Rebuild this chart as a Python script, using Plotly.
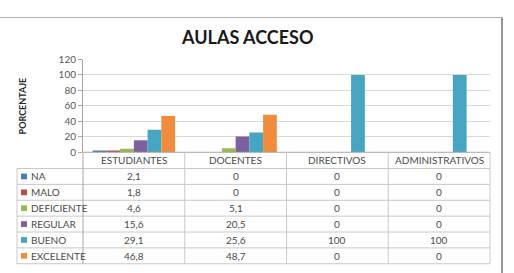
import plotly.graph_objects as go

categories = ["ESTUDIANTES", "DOCENTES", "DIRECTIVOS", "ADMINISTRATIVOS"]
series_names = ["NA", "MALO", "DEFICIENTE", "REGULAR", "BUENO", "EXCELENTE"]
na = [2.1, 0, 0, 0]
malo = [1.8, 0, 0, 0]
deficiente = [4.6, 5.1, 0, 0]
regular = [15.6, 20.5, 0, 0]
bueno = [29.1, 25.6, 100, 100]
excelente = [46.8, 48.7, 0, 0]
y_ticks = [0, 20, 40, 60, 80, 100, 120]
title_text = "AULAS ACCESO"
y_title = "PORCENTAJE"

series_values = [na, malo, deficiente, regular, bueno, excelente]
colors = ["#4a7ebb", "#be4b48", "#98b954", "#7d60a0", "#46a5c0", "#f08c3c"]

W, H = 514, 273
def px(x):
    return x / W
def py(y):
    return 1 - y / H

FONT = "Lato"
fig = go.Figure()
for name, vals, c in zip(series_names, series_values, colors):
    fig.add_trace(go.Bar(x=categories, y=vals, name=name, marker=dict(color=c, line=dict(width=0))))

plot_l, plot_r, plot_t, plot_b = 83, 490, 56, 153
shapes = []
annotations = []

# outer frame
shapes.append(dict(type="rect", xref="paper", yref="paper", x0=px(-3), x1=px(502), y0=py(12), y1=py(290),
                   line=dict(color="#b0b0b0", width=1)))
shapes.append(dict(type="line", xref="paper", yref="paper", x0=px(502), x1=px(502), y0=py(12), y1=py(290),
                   line=dict(color="#808080", width=1.5)))

# table
row_h = 16.6
header_top = plot_b
rows_top = plot_b + 17
line_col = "#c8c8c8"
for i in range(len(series_names) + 1):
    yy = rows_top + i * row_h
    shapes.append(dict(type="line", xref="paper", yref="paper", x0=px(17), x1=px(plot_r), y0=py(yy), y1=py(yy),
                       line=dict(color=line_col, width=1)))
table_bottom = rows_top + len(series_names) * row_h
shapes.append(dict(type="line", xref="paper", yref="paper", x0=px(plot_l), x1=px(plot_r), y0=py(header_top), y1=py(header_top),
                   line=dict(color="#a6a6a6", width=1)))
shapes.append(dict(type="line", xref="paper", yref="paper", x0=px(17), x1=px(17), y0=py(rows_top), y1=py(table_bottom),
                   line=dict(color=line_col, width=1)))
col_w = (plot_r - plot_l) / len(categories)
for j in range(len(categories) + 1):
    xx = plot_l + j * col_w
    shapes.append(dict(type="line", xref="paper", yref="paper", x0=px(xx), x1=px(xx), y0=py(header_top), y1=py(table_bottom),
                       line=dict(color=line_col if j > 0 else "#a6a6a6", width=1)))

txt_col = "#4a4a4a"
for c in categories:
    annotations.append(dict(x=c, xref="x", y=py(header_top + 8.5), yref="paper", text=c, showarrow=False,
                            font=dict(family=FONT, size=10, color=txt_col), xanchor="center", yanchor="middle"))

def fmt(v):
    if v == int(v):
        return str(int(v))
    return str(v).replace(".", ",")

for i, (name, vals, col) in enumerate(zip(series_names, series_values, colors)):
    cy = rows_top + i * row_h + row_h / 2
    shapes.append(dict(type="rect", xref="paper", yref="paper", x0=px(21), x1=px(27), y0=py(cy - 3), y1=py(cy + 3),
                       fillcolor=col, line=dict(width=0)))
    annotations.append(dict(x=px(29), xref="paper", y=py(cy), yref="paper", text=name, showarrow=False,
                            font=dict(family=FONT, size=10, color=txt_col), xanchor="left", yanchor="middle"))
    for c, v in zip(categories, vals):
        annotations.append(dict(x=c, xref="x", y=py(cy), yref="paper", text=fmt(v), showarrow=False,
                                font=dict(family=FONT, size=10, color=txt_col), xanchor="center", yanchor="middle"))

annotations.append(dict(x=px(22), xref="paper", y=py(105), yref="paper", text="<b>" + y_title + "</b>", showarrow=False,
                        textangle=-90, font=dict(family=FONT, size=9, color="#262626"), xanchor="center", yanchor="middle"))
annotations.append(dict(x=px(247), xref="paper", y=py(32), yref="paper", text="<b>" + title_text + "</b>", showarrow=False,
                        font=dict(family=FONT, size=18, color="#1a1a1a"), xanchor="center", yanchor="middle"))

fig.update_layout(
    width=W, height=H,
    margin=dict(l=0, r=0, t=0, b=0),
    paper_bgcolor="white", plot_bgcolor="white",
    showlegend=False,
    barmode="group", bargap=0.19, bargroupgap=0,
    xaxis=dict(domain=[px(plot_l), px(plot_r)], range=[-0.5, 3.5], showticklabels=False, showline=False,
               showgrid=False, zeroline=False, fixedrange=True),
    yaxis=dict(domain=[py(plot_b), py(plot_t)], range=[0, 120], tickvals=y_ticks, showline=True,
               linecolor="#a6a6a6", linewidth=1, ticks="outside", ticklen=4, tickcolor="#a6a6a6",
               gridcolor="#d9d9d9", gridwidth=1, zeroline=False,
               tickfont=dict(family=FONT, size=10, color="#595959")),
    shapes=shapes, annotations=annotations,
)
fig.write_html("out.html")
